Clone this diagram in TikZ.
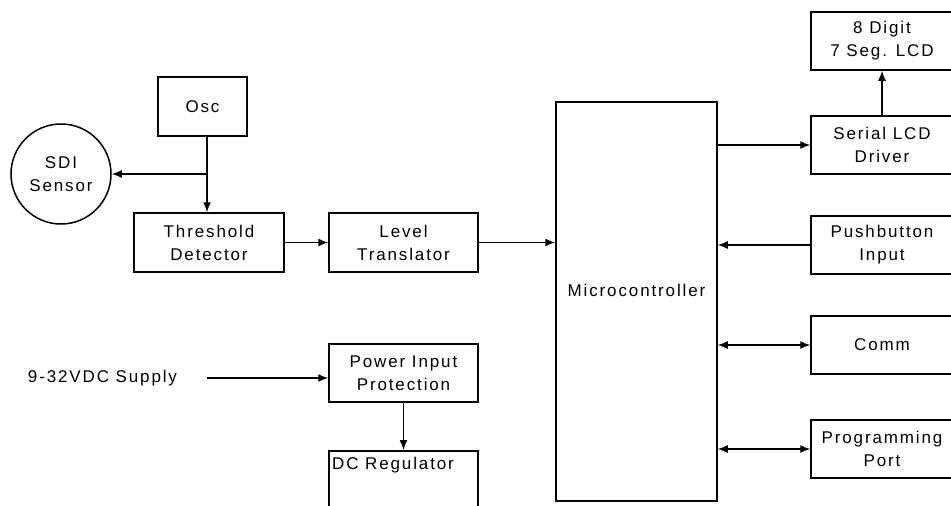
\documentclass[tikz,border=0pt]{standalone}
\usepackage{fontspec}
\setmainfont{Liberation Sans}[LetterSpace=11]
\usetikzlibrary{arrows.meta}
\newcommand{\dfont}{\fontsize{17}{23}\selectfont}
\begin{document}
\begin{tikzpicture}[x=1pt,y=-1pt,
  box/.style={draw, line width=1.5pt, rectangle, inner sep=0pt, align=center, font=\dfont},
  txt/.style={inner sep=0pt, font=\dfont},
  arr/.style={line width=1.4pt, -{Latex[length=10pt,width=8pt]}},
  darr/.style={line width=1.4pt, {Latex[length=10pt,width=8pt]}-{Latex[length=10pt,width=8pt]}}]
\useasboundingbox (0,0) rectangle (951,506);
\clip (0,0) rectangle (951,506);
% nodes
\node[box, minimum width=89pt, minimum height=59pt] (osc) at (202.5,106.5) {Osc};
\node[box, circle, minimum size=100pt] (sdi) at (61,174) {SDI\\Sensor};
\node[box, minimum width=150pt, minimum height=59pt] (thr) at (209,242.5) {Threshold\\Detector};
\node[box, minimum width=149pt, minimum height=59pt] (lvl) at (403.5,242.5) {Level\\Translator};
\node[box, minimum width=161pt, minimum height=399pt,
      label={[yshift=11pt, font=\dfont]center:Microcontroller}] (mcu) at (636.5,301.5) {};
\node[box, minimum width=142pt, minimum height=58pt] (lcd) at (882,41) {8 Digit\\7 Seg. LCD};
\node[box, minimum width=142pt, minimum height=58pt] (ser) at (882,145) {Serial LCD\\Driver};
\node[box, minimum width=142pt, minimum height=58pt] (push) at (882,245) {Pushbutton\\Input};
\node[box, minimum width=142pt, minimum height=58pt] (comm) at (882,345) {Comm};
\node[box, minimum width=142pt, minimum height=58pt] (prog) at (882,449) {Programming\\Port};
\node[box, minimum width=149pt, minimum height=58pt] (pwr) at (403.5,373) {Power Input\\Protection};
\node[box, minimum width=149pt, minimum height=62pt, anchor=north] (dc) at (403.5,450) {};
\node[txt, anchor=west] (dctxt) at (332,465) {DC Regulator};
\node[txt] (sup) at (102.5,378) {9-32VDC Supply};
% connectors
\coordinate (br) at (207,174);
\draw[line width=1.4pt] (osc.south -| br) -- (br);
\draw[arr] (br) -- (br |- thr.north);
\draw[arr] (br) -- (sdi.east);
\draw[arr] (thr.east) -- (lvl.west);
\draw[arr] (lvl.east) -- (lvl.east -| mcu.west);
\draw[arr] (ser.west -| mcu.east) -- (ser.west);
\draw[arr] (ser.north) -- (lcd.south);
\draw[arr] (push.west) -- (push.west -| mcu.east);
\draw[darr] (comm.west -| mcu.east) -- (comm.west);
\draw[darr] (prog.west -| mcu.east) -- (prog.west);
\draw[arr] ([xshift=30pt]sup.east) -- (sup.east -| pwr.west);
\draw[arr] (pwr.south) -- (dc.north);
\end{tikzpicture}
\end{document}
